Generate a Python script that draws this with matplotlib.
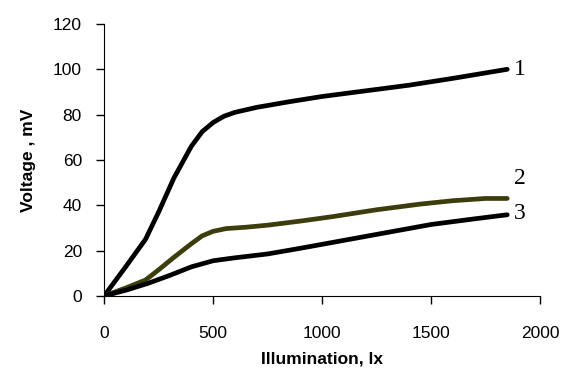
import numpy as np
import matplotlib
matplotlib.use("Agg")
import matplotlib.pyplot as plt

# values
lux_1 = [0, 100, 190, 250, 320, 400, 450, 500, 550, 600, 700, 850, 1000, 1200, 1400, 1600, 1850]
volt_1 = [0, 13, 25, 37, 52, 66, 72.5, 76.5, 79.3, 81, 83.2, 85.7, 88, 90.5, 93, 96, 100]

lux_2 = [0, 100, 190, 250, 320, 400, 450, 500, 560, 650, 750, 900, 1050, 1250, 1450, 1600, 1750, 1850]
volt_2 = [0, 3.5, 7, 11.5, 17, 23, 26.5, 28.5, 29.7, 30.3, 31.2, 33, 35, 38, 40.5, 42, 43, 43]

lux_3 = [0, 100, 200, 300, 400, 500, 600, 750, 900, 1100, 1300, 1500, 1700, 1850]
volt_3 = [0, 2.5, 5.5, 9, 12.8, 15.5, 16.8, 18.5, 21, 24.5, 28, 31.5, 34, 35.8]

curve_names = ["1", "2", "3"]
label_y = [100, 52, 36.5]

fig = plt.figure(figsize=(5.63, 3.75), dpi=100)
ax = fig.add_axes([0.185, 0.211, 0.774, 0.725])

ax.plot(lux_1, volt_1, color="black", lw=3.4, solid_capstyle="round", solid_joinstyle="round")
ax.plot(lux_2, volt_2, color="#3c3c0c", lw=3.4, solid_capstyle="round", solid_joinstyle="round")
ax.plot(lux_3, volt_3, color="black", lw=3.4, solid_capstyle="round", solid_joinstyle="round")

for name, yv in zip(curve_names, label_y):
    ax.text(1880, yv, name, family="Liberation Serif", fontsize=17,
            va="center", ha="left")

ax.set_xlim(0, 2000)
ax.set_ylim(0, 120)
ax.set_xticks(np.arange(0, 2001, 500))
ax.set_yticks(np.arange(0, 121, 20))
for s in ["top", "right"]:
    ax.spines[s].set_visible(False)
ax.tick_params(direction="out", length=6, width=1, labelsize=12.5)
for lab in ax.get_xticklabels() + ax.get_yticklabels():
    lab.set_family("Liberation Sans")
ax.tick_params(axis="x", pad=16)
ax.tick_params(axis="y", pad=10)

ax.set_xlabel("Illumination, lx", family="Liberation Sans", fontweight="bold",
              fontsize=12.5, labelpad=7)
ax.set_ylabel("Voltage , mV", family="Liberation Sans", fontweight="bold",
              fontsize=12.5, labelpad=12)

fig.savefig("out.png", dpi=100)
